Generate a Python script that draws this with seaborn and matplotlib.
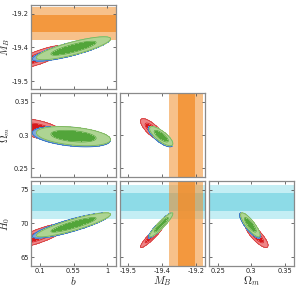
import numpy as np
import matplotlib
matplotlib.use("Agg")
import matplotlib.pyplot as plt
import seaborn as sns

# ---------------- data ----------------
param_labels = [r"$b$", r"$M_B$", r"$\Omega_m$", r"$H_0$"]

b_range = [-0.02, 1.12]
mb_range = [-19.535, -19.162]
om_range = [0.237, 0.3635]
h0_range = [63.66, 76.34]

b_ticks = [0.1, 0.55, 1.0]
b_ticklabels = ["0.1", "0.55", "1"]
mb_ticks = [-19.5, -19.35, -19.2]
mb_ticklabels = ["-19.5", "-19.4", "-19.2"]
om_ticks = [0.25, 0.3, 0.35]
om_ticklabels = ["0.25", "0.3", "0.35"]
h0_ticks = [65, 70, 75]
h0_ticklabels = ["65", "70", "75"]

# external priors shown as bands (mean, sigma)
mb_prior = [-19.244, 0.037]
h0_prior = [73.2, 1.3]

# Gaussian summaries of each posterior: (b, M_B, Omega_m, H0)
red_mean = [0.10, -19.393, 0.3080, 68.2]
red_sigma = [0.15, 0.021, 0.0068, 0.72]
blue_mean = [0.52, -19.358, 0.2978, 69.7]
blue_sigma = [0.21, 0.0215, 0.0062, 0.76]
green_mean = [0.55, -19.354, 0.2985, 69.8]
green_sigma = [0.20, 0.0205, 0.0058, 0.72]
# correlations for pairs (b,MB), (b,Om), (b,H0), (MB,Om), (MB,H0), (Om,H0)
red_corr = [0.80, -0.60, 0.80, -0.78, 0.93, -0.82]
blue_corr = [0.82, -0.38, 0.86, -0.78, 0.93, -0.84]
green_corr = [0.82, -0.35, 0.88, -0.78, 0.93, -0.84]

# ---------------- style ----------------
sns.set_style("ticks")
plt.rcParams["font.family"] = ["DejaVu Sans"]
plt.rcParams["mathtext.fontset"] = "cm"

ranges = [b_range, mb_range, om_range, h0_range]
ticks = [b_ticks, mb_ticks, om_ticks, h0_ticks]
ticklabels = [b_ticklabels, mb_ticklabels, om_ticklabels, h0_ticklabels]
pair_index = {(0, 1): 0, (0, 2): 1, (0, 3): 2, (1, 2): 3, (1, 3): 4, (2, 3): 5}

datasets = [
    (red_mean, red_sigma, red_corr, "#d7191c", "#ee8486", "#d43a3a"),
    (blue_mean, blue_sigma, blue_corr, "#2f6fbf", "#7fa8dc", "#2f6fbf"),
    (green_mean, green_sigma, green_corr, "#52a53a", "#aed493", "#79b55c"),
]

fig = plt.figure(figsize=(3.0, 2.89), dpi=100)
W, H = 300.0, 289.0
col_x = [31, 120, 209]
col_w = 85
row_y = [(5, 89), (93, 177), (181, 266)]

spine_col = "#8a8a8a"
orange = "#f28e2b"
cyan_light = "#c4eef4"
cyan_dark = "#8ddbe7"

for i in range(3):          # row -> y parameter i+1
    for j in range(i + 1):  # col -> x parameter j
        px, py = j, i + 1
        top, bot = row_y[i]
        ax = fig.add_axes([col_x[j] / W, 1 - bot / H, col_w / W, (bot - top) / H])
        ax.set_xlim(ranges[px])
        ax.set_ylim(ranges[py])

        # prior bands
        if py == 3:
            m, s = h0_prior
            ax.axhspan(m - 2 * s, m + 2 * s, color=cyan_light, lw=0, zorder=0)
            ax.axhspan(m - s, m + s, color=cyan_dark, lw=0, zorder=0.1)
        if py == 1:
            m, s = mb_prior
            ax.axhspan(m - 2 * s, m + 2 * s, color=orange, alpha=0.55, lw=0, zorder=0.2)
            ax.axhspan(m - s, m + s, color=orange, alpha=0.8, lw=0, zorder=0.3)
        if px == 1:
            m, s = mb_prior
            ax.axvspan(m - 2 * s, m + 2 * s, color=orange, alpha=0.55, lw=0, zorder=0.2)
            ax.axvspan(m - s, m + s, color=orange, alpha=0.8, lw=0, zorder=0.3)

        xs = np.linspace(ranges[px][0], ranges[px][1], 300)
        ys = np.linspace(ranges[py][0], ranges[py][1], 300)
        X, Y = np.meshgrid(xs, ys)
        for k, (mean, sig, corr, inner, outer, edge) in enumerate(datasets):
            rho = corr[pair_index[(px, py)]]
            sx, sy = sig[px], sig[py]
            dx = (X - mean[px]) / sx
            dy = (Y - mean[py]) / sy
            d2 = (dx ** 2 - 2 * rho * dx * dy + dy ** 2) / (1 - rho ** 2)
            z = 1 + k
            ax.contourf(X, Y, d2, levels=[0, 2.30, 6.18], colors=[inner, outer], zorder=z)
            ax.contour(X, Y, d2, levels=[6.18], colors=[edge], linewidths=0.6, zorder=z + 0.1)
            ax.contour(X, Y, d2, levels=[2.30], colors=[inner], linewidths=0.5, zorder=z + 0.2)

        ax.set_xticks(ticks[px])
        ax.set_yticks(ticks[py])
        if i == 2:
            ax.set_xticklabels(ticklabels[px])
            fig.text((col_x[j] + col_w / 2) / W, 1 - 281 / H, param_labels[px],
                     fontsize=8, ha="center", va="center")
        else:
            ax.set_xticklabels([])
        if j == 0:
            ax.set_yticklabels(ticklabels[py])
            fig.text(5.5 / W, 1 - (top + bot) / 2 / H, param_labels[py], fontsize=7.5,
                     rotation=90, ha="center", va="center")
        else:
            ax.set_yticklabels([])
        ax.tick_params(direction="in", length=2.5, width=0.6, colors="#555555",
                       labelsize=4.8, pad=1.5, top=True, right=True, labelcolor="#222222")
        for sp in ax.spines.values():
            sp.set_color(spine_col)
            sp.set_linewidth(0.9)
            sp.set_zorder(10)

fig.savefig("out.png", dpi=100)
